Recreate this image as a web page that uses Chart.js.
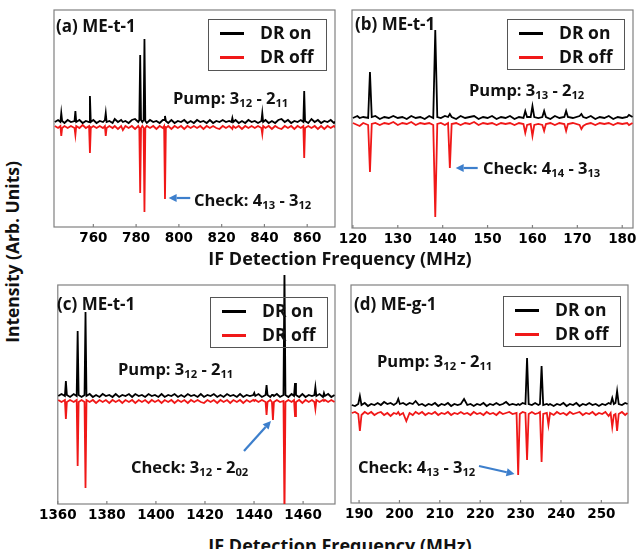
<!DOCTYPE html>
<html>
<head>
<meta charset="utf-8">
<script src="https://cdn.jsdelivr.net/npm/chart.js@4.4.0/dist/chart.umd.min.js"></script>
<style>
  body { margin: 0; width: 636px; height: 549px; position: relative; overflow: hidden; background: #fff;
         font-family: "Open Sans", Lato, sans-serif; font-weight: bold; color: #111; }
  canvas { position: absolute; }
  .t { position: absolute; white-space: nowrap; line-height: 1; transform: translateY(-50%); }
  .t sub { font-size: 68%; vertical-align: -0.3em; line-height: 0; }
  .lg { position: absolute; border: 1.5px solid #555; box-sizing: border-box; }
  .lg .ln { position: absolute; left: 11px; width: 24px; height: 2.5px; }
  .lg .lt { position: absolute; left: 51px; font-size: 17.5px; line-height: 1; transform: translateY(-50%); white-space: nowrap; }
  .axt { position: absolute; font-size: 18px; white-space: nowrap; line-height: 1; transform: translate(-50%, -50%); }
</style>
</head>
<body>
<canvas id="ca"></canvas>
<canvas id="cb"></canvas>
<canvas id="cc"></canvas>
<canvas id="cd"></canvas>

<div class="t" style="left:56px;top:25px;font-size:17px">(a) ME-t-1</div>
<div class="t" style="left:355px;top:23px;font-size:17px">(b) ME-t-1</div>
<div class="t" style="left:57px;top:303px;font-size:17px">(c) ME-t-1</div>
<div class="t" style="left:354px;top:303px;font-size:17px">(d) ME-g-1</div>

<div class="lg" style="left:208px;top:19px;width:119px;height:52px">
  <div class="ln" style="top:12px;background:#000"></div><div class="lt" style="top:13px">DR on</div>
  <div class="ln" style="top:36px;background:#f01818"></div><div class="lt" style="top:37px">DR off</div>
</div>
<div class="lg" style="left:507px;top:19px;width:118px;height:51px">
  <div class="ln" style="top:12px;background:#000"></div><div class="lt" style="top:13px">DR on</div>
  <div class="ln" style="top:36px;background:#f01818"></div><div class="lt" style="top:37px">DR off</div>
</div>
<div class="lg" style="left:210px;top:297px;width:118px;height:51px">
  <div class="ln" style="top:12px;background:#000"></div><div class="lt" style="top:13px">DR on</div>
  <div class="ln" style="top:36px;background:#f01818"></div><div class="lt" style="top:37px">DR off</div>
</div>
<div class="lg" style="left:503px;top:296px;width:118px;height:51px">
  <div class="ln" style="top:12px;background:#000"></div><div class="lt" style="top:13px">DR on</div>
  <div class="ln" style="top:36px;background:#f01818"></div><div class="lt" style="top:37px">DR off</div>
</div>

<div class="t" style="left:173px;top:98px;font-size:16.5px">Pump: 3<sub>12</sub> - 2<sub>11</sub></div>
<div class="t" style="left:469px;top:90px;font-size:16.5px">Pump: 3<sub>13</sub> - 2<sub>12</sub></div>
<div class="t" style="left:118px;top:369px;font-size:16.5px">Pump: 3<sub>12</sub> - 2<sub>11</sub></div>
<div class="t" style="left:377px;top:361px;font-size:16.5px">Pump: 3<sub>12</sub> - 2<sub>11</sub></div>

<div class="t" style="left:194px;top:200px;font-size:16.5px">Check: 4<sub>13</sub> - 3<sub>12</sub></div>
<div class="t" style="left:483px;top:168px;font-size:16.5px">Check: 4<sub>14</sub> - 3<sub>13</sub></div>
<div class="t" style="left:131px;top:467px;font-size:16.5px">Check: 3<sub>12</sub> - 2<sub>02</sub></div>
<div class="t" style="left:358px;top:467px;font-size:16.5px">Check: 4<sub>13</sub> - 3<sub>12</sub></div>

<div class="axt" style="left:340px;top:258px">IF Detection Frequency (MHz)</div>
<div class="axt" style="left:340px;top:545px">IF Detection Frequency (MHz)</div>
<div class="axt" style="left:13px;top:252px;transform:translate(-50%,-50%) rotate(-90deg);font-size:17.5px">Intensity (Arb. Units)</div>

<script>
// (a) ME-t-1, pump 3_12 - 2_11
const freqA = [742, 743.5, 744.6, 745.0, 745.4, 746.5, 748, 749.5, 751.2, 751.6,
  752.0, 753.5, 755, 756.5, 758.0, 758.4, 758.8, 760, 761.5, 763,
  764.5, 765.4, 765.8, 766.2, 767.5, 769, 770, 771.5, 773, 773.8,
  775, 776.5, 778, 779.5, 781.0, 781.5, 781.9, 782.3, 782.9, 783.5,
  783.9, 784.3, 785.0, 786.5, 788, 789.5, 791, 792.5, 793.1, 793.5,
  793.9, 795, 796.5, 798, 799.5, 801, 802.5, 804, 805.5, 807,
  808.5, 810, 811.5, 813, 814.5, 816, 817.5, 819, 820.5, 822,
  823.5, 824.6, 825.0, 825.4, 826.5, 828, 829.5, 831, 832.5, 834,
  835.5, 837, 838.6, 839.0, 839.4, 840.5, 842, 843.5, 845, 846.5,
  848, 849.5, 851, 852.5, 854, 855.5, 857, 858.2, 858.6, 859.0,
  860.5, 862, 863.5, 865, 866.5, 868, 869.5, 871, 872.5, 873.5];
const onA = [0.01, 0.03, 0.01, 0.10, 0.02, 0.00, 0.03, 0.01, 0.02, 0.12,
  0.01, 0.03, 0.00, 0.02, 0.01, 0.27, 0.01, 0.03, 0.00, 0.02,
  0.01, 0.03, 0.10, 0.01, 0.02, 0.00, 0.04, 0.01, 0.03, 0.01,
  0.02, 0.00, 0.03, 0.04, 0.01, 0.03, 0.68, 0.03, 0.01, 0.03,
  0.84, 0.02, 0.00, 0.03, 0.01, 0.02, 0.00, 0.03, 0.03, 0.07,
  0.02, 0.00, 0.03, 0.00, 0.02, 0.01, 0.03, 0.00, 0.02, 0.00,
  0.03, 0.01, 0.02, 0.00, 0.03, 0.00, 0.02, 0.01, 0.03, 0.01,
  0.02, 0.01, 0.05, 0.01, 0.03, 0.00, 0.02, 0.00, 0.03, 0.01,
  0.02, 0.00, 0.02, 0.10, 0.01, 0.03, 0.00, 0.02, 0.00, 0.03,
  0.04, 0.01, 0.03, 0.00, 0.02, 0.01, 0.03, 0.01, 0.32, 0.02,
  0.00, 0.04, 0.01, 0.03, 0.00, 0.02, 0.01, 0.03, 0.00, 0.02];
const offA = [-0.03, -0.05, -0.03, -0.13, -0.05, -0.03, -0.05, -0.03, -0.05, -0.12,
  -0.03, -0.05, -0.02, -0.05, -0.03, -0.30, -0.05, -0.03, -0.05, -0.03,
  -0.05, -0.03, -0.13, -0.05, -0.03, -0.05, -0.03, -0.06, -0.03, -0.07,
  -0.03, -0.05, -0.03, -0.06, -0.03, -0.05, -0.70, -0.05, -0.03, -0.05,
  -0.89, -0.05, -0.03, -0.05, -0.03, -0.06, -0.03, -0.05, -0.03, -0.76,
  -0.05, -0.03, -0.06, -0.03, -0.05, -0.03, -0.06, -0.03, -0.05, -0.03,
  -0.05, -0.03, -0.06, -0.03, -0.05, -0.03, -0.05, -0.06, -0.03, -0.05,
  -0.03, -0.05, -0.06, -0.03, -0.05, -0.03, -0.06, -0.03, -0.05, -0.03,
  -0.05, -0.03, -0.05, -0.11, -0.03, -0.05, -0.03, -0.06, -0.03, -0.05,
  -0.06, -0.03, -0.05, -0.03, -0.06, -0.03, -0.05, -0.03, -0.35, -0.05,
  -0.03, -0.05, -0.03, -0.06, -0.03, -0.06, -0.03, -0.05, -0.03, -0.05];

// (b) ME-t-1, pump 3_13 - 2_12
const freqB = [120, 121, 121.5, 122.3, 123.4, 123.8, 124.2, 125, 126, 127,
  128, 129, 130, 131, 132, 133, 134, 135, 136, 137,
  137.9, 138.35, 138.8, 139.6, 140.5, 141.2, 141.6, 142.0, 143, 144,
  145, 146, 147, 148, 149, 150, 151, 152, 153, 154,
  155, 156, 157, 158.0, 158.4, 158.8, 159.6, 160.0, 160.4, 161.3,
  162.2, 162.6, 163.0, 164, 165, 166, 167.1, 167.5, 167.9, 169,
  170.5, 170.9, 171.3, 172, 173, 174, 175, 176, 177, 178,
  179, 180, 181.1, 181.5, 182.3];
const onB = [0.01, 0.03, 0.01, 0.02, 0.01, 0.47, 0.02, 0.03, 0.00, 0.02,
  0.01, 0.03, 0.01, 0.02, 0.00, 0.03, 0.01, 0.02, 0.00, 0.03,
  0.01, 0.89, 0.02, 0.01, 0.03, 0.02, 0.05, 0.02, 0.00, 0.03,
  0.01, 0.02, 0.03, 0.00, 0.02, 0.01, 0.03, 0.00, 0.02, 0.01,
  0.03, 0.00, 0.02, 0.01, 0.08, 0.02, 0.02, 0.13, 0.02, 0.01,
  0.02, 0.08, 0.02, 0.00, 0.03, 0.01, 0.02, 0.08, 0.02, 0.01,
  0.03, 0.05, 0.02, 0.01, 0.03, 0.00, 0.02, 0.01, 0.03, 0.00,
  0.02, 0.01, 0.02, 0.04, 0.02];
const offB = [-0.04, -0.06, -0.07, -0.04, -0.06, -0.53, -0.05, -0.04, -0.06, -0.04,
  -0.05, -0.03, -0.06, -0.04, -0.05, -0.03, -0.06, -0.04, -0.05, -0.04,
  -0.06, -0.98, -0.05, -0.04, -0.06, -0.04, -0.49, -0.05, -0.04, -0.06,
  -0.04, -0.05, -0.03, -0.06, -0.04, -0.05, -0.04, -0.06, -0.04, -0.05,
  -0.04, -0.06, -0.04, -0.05, -0.14, -0.06, -0.05, -0.17, -0.06, -0.05,
  -0.06, -0.12, -0.05, -0.04, -0.06, -0.04, -0.05, -0.12, -0.05, -0.04,
  -0.06, -0.10, -0.07, -0.05, -0.04, -0.06, -0.04, -0.05, -0.04, -0.06,
  -0.04, -0.05, -0.04, -0.06, -0.04];

// (c) ME-t-1, pump 3_12 - 2_11
const freqC = [1360.2, 1361.5, 1362.9, 1363.3, 1363.7, 1365, 1366.5, 1367.7, 1368.1, 1368.5,
  1369.7, 1370.9, 1371.3, 1371.7, 1373, 1374.3, 1375.6, 1377, 1378.3, 1379.6,
  1381, 1382.3, 1383.6, 1385, 1386.3, 1387.6, 1389, 1390.3, 1391.6, 1393,
  1394.3, 1395.6, 1397, 1398.3, 1399.6, 1401, 1402.3, 1403.6, 1405, 1406.3,
  1407.6, 1409, 1410.3, 1411.6, 1413, 1414.3, 1415.6, 1417, 1418.3, 1419.6,
  1421, 1422.3, 1423.6, 1425, 1426.3, 1427.6, 1429, 1430.3, 1431.6, 1433,
  1434.3, 1435.6, 1437, 1438.3, 1439.7, 1440.1, 1440.5, 1441.8, 1443.2, 1444.7,
  1445.1, 1445.5, 1446.6, 1447.3, 1447.7, 1448.1, 1449.3, 1450.6, 1452.0, 1452.4,
  1452.8, 1454, 1455.3, 1456.3, 1456.7, 1457.1, 1458.4, 1459.7, 1461, 1462.3,
  1463.6, 1464.6, 1465.0, 1465.4, 1466.7, 1468.1, 1468.5, 1468.9, 1470.2, 1471.5,
  1472.8];
const onC = [0.01, 0.03, 0.01, 0.16, 0.02, 0.00, 0.03, 0.01, 0.66, 0.02,
  0.00, 0.02, 0.85, 0.01, 0.03, 0.00, 0.02, 0.00, 0.03, 0.01,
  0.02, 0.00, 0.03, 0.00, 0.02, 0.01, 0.03, 0.00, 0.03, 0.01,
  0.02, 0.00, 0.03, 0.01, 0.02, 0.00, 0.03, 0.00, 0.02, 0.01,
  0.03, 0.00, 0.02, 0.00, 0.03, 0.01, 0.02, 0.00, 0.03, 0.00,
  0.02, 0.01, 0.03, 0.00, 0.02, 0.00, 0.03, 0.01, 0.02, 0.00,
  0.03, 0.00, 0.02, 0.01, 0.02, 0.04, 0.01, 0.03, 0.00, 0.02,
  0.12, 0.02, 0.00, 0.02, 0.02, 0.01, 0.03, 0.00, 0.02, 1.27,
  0.02, 0.00, 0.03, 0.01, 0.14, 0.02, 0.00, 0.03, 0.00, 0.02,
  0.01, 0.02, 0.10, 0.01, 0.03, 0.00, 0.04, 0.01, 0.03, 0.00,
  0.02];
const offC = [-0.03, -0.05, -0.03, -0.22, -0.05, -0.03, -0.05, -0.03, -0.69, -0.05,
  -0.03, -0.05, -0.91, -0.03, -0.05, -0.03, -0.06, -0.03, -0.05, -0.03,
  -0.06, -0.03, -0.05, -0.03, -0.06, -0.03, -0.05, -0.03, -0.06, -0.03,
  -0.05, -0.03, -0.06, -0.03, -0.05, -0.03, -0.06, -0.03, -0.05, -0.03,
  -0.06, -0.03, -0.05, -0.03, -0.06, -0.03, -0.05, -0.03, -0.05, -0.06,
  -0.03, -0.05, -0.03, -0.06, -0.03, -0.05, -0.03, -0.06, -0.03, -0.05,
  -0.03, -0.06, -0.03, -0.05, -0.03, -0.04, -0.03, -0.05, -0.03, -0.05,
  -0.18, -0.05, -0.03, -0.05, -0.23, -0.05, -0.03, -0.05, -0.04, -1.20,
  -0.05, -0.03, -0.05, -0.03, -0.19, -0.05, -0.03, -0.06, -0.03, -0.05,
  -0.03, -0.05, -0.12, -0.03, -0.05, -0.03, -0.04, -0.03, -0.05, -0.03,
  -0.05];

// (d) ME-g-1, pump 3_12 - 2_11
const freqD = [188.2, 189.0, 189.8, 190.2, 190.6, 191.4, 192.2, 193.0, 193.8, 194.6,
  195.4, 196.2, 197.0, 197.8, 198.6, 199.3, 199.7, 200.1, 200.9, 201.7,
  202.5, 203.3, 204.0, 204.8, 205.6, 206.4, 207.2, 208.0, 208.8, 209.6,
  210.4, 211.2, 212.0, 212.8, 213.6, 214.4, 215.2, 216.0, 216.8, 217.6,
  218.4, 219.2, 220.0, 220.8, 221.6, 222.4, 223.2, 224.0, 224.8, 225.6,
  226.4, 227.2, 228.0, 229.0, 229.4, 229.8, 230.5, 231.2, 231.6, 232.0,
  232.8, 233.6, 234.4, 234.8, 235.2, 235.6, 236.5, 236.9, 237.3, 238.2,
  239.0, 239.8, 240.6, 241.4, 242.2, 243.0, 243.8, 244.6, 245.4, 246.2,
  247.0, 247.8, 248.6, 249.4, 250.2, 251.0, 251.8, 252.3, 252.7, 253.1,
  253.5, 253.9, 254.3, 255.1, 255.9, 256.5];
const onD = [0.02, 0.01, 0.03, 0.11, 0.02, 0.04, 0.01, 0.03, 0.02, 0.04,
  0.02, 0.05, 0.03, 0.04, 0.02, 0.04, 0.08, 0.03, 0.04, 0.02,
  0.04, 0.03, 0.06, 0.02, 0.03, 0.01, 0.03, 0.02, 0.04, 0.01,
  0.03, 0.02, 0.04, 0.01, 0.03, 0.02, 0.03, 0.08, 0.02, 0.03,
  0.01, 0.03, 0.02, 0.04, 0.01, 0.03, 0.02, 0.04, 0.02, 0.03,
  0.05, 0.02, 0.03, 0.02, 0.03, 0.02, 0.04, 0.03, 0.49, 0.03,
  0.02, 0.04, 0.02, 0.03, 0.41, 0.02, 0.03, 0.02, 0.03, 0.01,
  0.03, 0.02, 0.04, 0.01, 0.03, 0.02, 0.04, 0.01, 0.03, 0.02,
  0.04, 0.02, 0.03, 0.01, 0.03, 0.02, 0.04, 0.03, 0.09, 0.03,
  0.04, 0.16, 0.03, 0.02, 0.04, 0.03];
const offD = [-0.06, -0.05, -0.07, -0.24, -0.08, -0.05, -0.07, -0.05, -0.08, -0.06,
  -0.05, -0.08, -0.06, -0.09, -0.06, -0.07, -0.05, -0.08, -0.06, -0.14,
  -0.06, -0.08, -0.05, -0.07, -0.05, -0.08, -0.06, -0.07, -0.05, -0.08,
  -0.06, -0.07, -0.05, -0.08, -0.06, -0.07, -0.05, -0.07, -0.06, -0.08,
  -0.05, -0.07, -0.06, -0.08, -0.05, -0.07, -0.06, -0.08, -0.05, -0.07,
  -0.06, -0.05, -0.07, -0.06, -0.68, -0.07, -0.05, -0.06, -0.53, -0.07,
  -0.05, -0.07, -0.06, -0.05, -0.55, -0.07, -0.06, -0.18, -0.06, -0.08,
  -0.05, -0.07, -0.06, -0.08, -0.05, -0.07, -0.06, -0.05, -0.08, -0.06,
  -0.07, -0.05, -0.08, -0.06, -0.07, -0.05, -0.09, -0.06, -0.20, -0.08,
  -0.07, -0.24, -0.07, -0.05, -0.08, -0.06];

// "Check" arrows: [tail freq, tail y, tip freq, tip y]
const arrowA = [805.3, -0.75, 795.2, -0.75];
const arrowB = [147.8, -0.49, 142.9, -0.49];
const arrowC = [1435.9, -0.54, 1446.9, -0.24];
const arrowD = [219.7, -0.59, 228.5, -0.67];

const frame = {
  id: 'frame',
  beforeDatasetsDraw(chart) {
    const { ctx, chartArea: a, scales: { x } } = chart;
    ctx.save();
    ctx.strokeStyle = '#808080';
    ctx.lineWidth = 1.2;
    ctx.strokeRect(a.left, a.top, a.right - a.left, a.bottom - a.top);
    x.ticks.forEach(t => {
      const px = x.getPixelForValue(t.value);
      ctx.beginPath();
      ctx.moveTo(px, a.bottom);
      ctx.lineTo(px, a.bottom - 3);
      ctx.stroke();
    });
    ctx.restore();
  },
  afterDatasetsDraw(chart, args, opts) {
    const ar = opts.arrow;
    if (!ar) return;
    const { ctx, scales: { x, y } } = chart;
    const x0 = x.getPixelForValue(ar[0]), y0 = y.getPixelForValue(ar[1]);
    const x1 = x.getPixelForValue(ar[2]), y1 = y.getPixelForValue(ar[3]);
    const ang = Math.atan2(y1 - y0, x1 - x0);
    const hl = 8, hw = 4;
    ctx.save();
    ctx.strokeStyle = '#3d7fcc';
    ctx.fillStyle = '#3d7fcc';
    ctx.lineWidth = 2.2;
    ctx.beginPath();
    ctx.moveTo(x0, y0);
    ctx.lineTo(x1 - hl * Math.cos(ang), y1 - hl * Math.sin(ang));
    ctx.stroke();
    ctx.beginPath();
    ctx.moveTo(x1, y1);
    ctx.lineTo(x1 - hl * Math.cos(ang) + hw * Math.sin(ang), y1 - hl * Math.sin(ang) - hw * Math.cos(ang));
    ctx.lineTo(x1 - hl * Math.cos(ang) - hw * Math.sin(ang), y1 - hl * Math.sin(ang) + hw * Math.cos(ang));
    ctx.closePath();
    ctx.fill();
    ctx.restore();
  }
};

function panel(id, box, xr, step, yr, freq, on, off, arrow) {
  const cv = document.getElementById(id);
  const w = box[2] - box[0] + 40, h = box[3] - box[1] + 10 + 22;
  cv.style.left = (box[0] - 20) + 'px';
  cv.style.top = (box[1] - 10) + 'px';
  cv.width = w; cv.height = h;
  cv.style.width = w + 'px'; cv.style.height = h + 'px';
  new Chart(cv, {
    type: 'line',
    data: {
      datasets: [
        { label: 'DR on', data: freq.map((f, i) => ({ x: f, y: on[i] })), borderColor: '#000',
          borderWidth: 1.8, pointRadius: 0, tension: 0, order: 1, clip: { left: 0, top: 16, right: 0, bottom: 0 } },
        { label: 'DR off', data: freq.map((f, i) => ({ x: f, y: off[i] })), borderColor: '#f01818',
          borderWidth: 1.8, pointRadius: 0, tension: 0, order: 2, clip: 0 }
      ]
    },
    options: {
      responsive: false,
      animation: false,
      events: [],
      layout: { padding: { left: 20, right: 20, top: 10, bottom: 0 } },
      plugins: { legend: { display: false }, tooltip: { enabled: false }, frame: { arrow: arrow } },
      scales: {
        x: {
          type: 'linear', min: xr[0], max: xr[1],
          grid: { display: false, drawTicks: false },
          border: { display: false },
          ticks: { stepSize: step, includeBounds: false, padding: 3, color: '#000', maxRotation: 0, autoSkip: false,
                   callback: v => String(v),
                   font: { family: '"DejaVu Sans", sans-serif', weight: 700, size: 13.5 } },
          afterFit: s => { s.height = 22; }
        },
        y: { display: false, min: yr[0], max: yr[1] }
      }
    },
    plugins: [frame]
  });
}

panel('ca', [54, 10, 335, 227], [741.6, 873], 20, [-1.04, 1.13], freqA, onA, offA, arrowA);
panel('cb', [352, 10, 633, 228], [119.8, 182.4], 10, [-1.09, 1.09], freqB, onB, offB, arrowB);
panel('cc', [56, 285, 335, 504], [1360, 1473], 20, [-1.07, 1.12], freqC, onC, offC, arrowC);
panel('cd', [351, 285, 628, 503], [188, 256.6], 10, [-0.96, 1.22], freqD, onD, offD, arrowD);
</script>
</body>
</html>
